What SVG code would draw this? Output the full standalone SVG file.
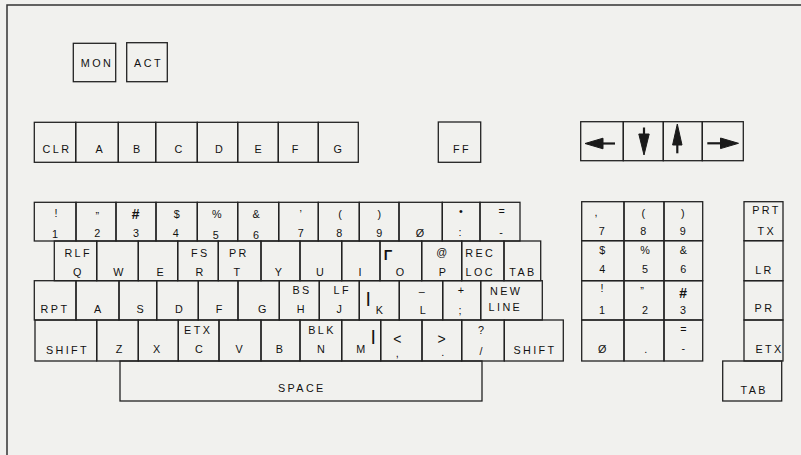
<svg xmlns="http://www.w3.org/2000/svg" width="801" height="455" viewBox="0 0 801 455">
<style>
.bg{fill:#f1f1ee}
.k{fill:none;stroke:#222;stroke-width:1.3}
.fr{fill:none;stroke:#333;stroke-width:1.5}
.t{font-family:"Liberation Sans",Arial,sans-serif;font-size:10.8px;text-anchor:middle;fill:#111}
.w{font-family:"Liberation Sans",Arial,sans-serif;font-size:10.8px;letter-spacing:2.4px;text-anchor:middle;fill:#111}
.h{font-family:"Liberation Sans",Arial,sans-serif;font-size:14px;font-weight:bold;font-style:italic;text-anchor:middle;fill:#111}
.big{font-family:"Liberation Sans",Arial,sans-serif;font-size:14px;text-anchor:middle;fill:#111}
.bar{font-family:"Liberation Sans",Arial,sans-serif;font-size:14px;font-weight:bold;text-anchor:middle;fill:#111}
.ar{fill:#1a1a1a;stroke:#1a1a1a;stroke-width:1}
.sh{stroke:#1a1a1a;stroke-width:2.2}
</style>
<rect class="bg" x="0" y="0" width="801" height="455"/>
<path class="fr" d="M7,455 V5 H801"/>

<g id="key-mon"><rect class="k" x="73.3" y="43.3" width="42.4" height="38.4"/><text class="w" x="97" y="67">MON</text></g>
<g id="key-act"><rect class="k" x="126.7" y="42.7" width="40.6" height="39"/><text class="w" x="148.5" y="67">ACT</text></g>

<g id="key-clr"><rect class="k" x="34.3" y="122.3" width="41.4" height="40"/><text class="w" x="57" y="153">CLR</text></g>
<g id="key-a1"><rect class="k" x="75.7" y="122.3" width="42.6" height="40"/><text class="t" x="99" y="153">A</text></g>
<g id="key-b1"><rect class="k" x="118.3" y="122.3" width="37.4" height="40"/><text class="t" x="136.7" y="153">B</text></g>
<g id="key-c1"><rect class="k" x="155.7" y="122.3" width="41.6" height="40"/><text class="t" x="178.3" y="153">C</text></g>
<g id="key-d1"><rect class="k" x="197.3" y="122.3" width="40.4" height="40"/><text class="t" x="219" y="153">D</text></g>
<g id="key-e1"><rect class="k" x="237.7" y="122.3" width="40.6" height="40"/><text class="t" x="258" y="153">E</text></g>
<g id="key-f1"><rect class="k" x="278.3" y="122.3" width="40" height="40"/><text class="t" x="295" y="153">F</text></g>
<g id="key-g1"><rect class="k" x="318.3" y="122.3" width="40" height="40"/><text class="t" x="337.7" y="153">G</text></g>

<g id="key-ff"><rect class="k" x="438.3" y="122" width="42.4" height="40.3"/><text class="w" x="462" y="152.5">FF</text></g>

<g id="key-left"><rect class="k" x="580.7" y="121.7" width="42.6" height="39"/><path class="ar" d="M585,143.5 L603,138.2 L603,148.8 Z"/><line class="sh" x1="600" y1="143.5" x2="615" y2="143.5"/></g>
<g id="key-down"><rect class="k" x="623.3" y="121.7" width="40" height="39"/><path class="ar" d="M638.8,134 L649.2,134 L644,155 Z"/><line class="sh" x1="644" y1="127.5" x2="644" y2="136"/></g>
<g id="key-up"><rect class="k" x="663.3" y="121.7" width="39" height="39"/><path class="ar" d="M677.3,124 L682,145 L672.6,145 Z"/><line class="sh" x1="677.3" y1="143" x2="677.3" y2="153.3"/></g>
<g id="key-right"><rect class="k" x="702.3" y="121.7" width="41" height="39"/><path class="ar" d="M738.5,143.3 L720.5,138 L720.5,148.6 Z"/><line class="sh" x1="707.3" y1="143.3" x2="723" y2="143.3"/></g>

<!-- row 1 -->
<g id="key-1"><rect class="k" x="34.3" y="202.3" width="41.7" height="38.7"/><text class="t" x="56" y="217">!</text><text class="t" x="55" y="237.5">1</text></g>
<g id="key-2"><rect class="k" x="76" y="202.3" width="40" height="38.7"/><text class="t" x="97.3" y="220">”</text><text class="t" x="97.3" y="237">2</text></g>
<g id="key-3"><rect class="k" x="116" y="202.3" width="40" height="38.7"/><text class="h" x="135.5" y="218.5">#</text><text class="t" x="136" y="237">3</text></g>
<g id="key-4"><rect class="k" x="156" y="202.3" width="41.3" height="38.7"/><text class="t" x="176.7" y="218">$</text><text class="t" x="175.7" y="237">4</text></g>
<g id="key-5"><rect class="k" x="197.3" y="202.3" width="40.4" height="38.7"/><text class="t" x="216.7" y="217.5">%</text><text class="t" x="215.7" y="239">5</text></g>
<g id="key-6"><rect class="k" x="237.7" y="202.3" width="41" height="38.7"/><text class="t" x="256" y="218">&amp;</text><text class="t" x="256" y="239">6</text></g>
<g id="key-7"><rect class="k" x="278.7" y="202.3" width="39.6" height="38.7"/><text class="t" x="300.7" y="218">’</text><text class="t" x="300.7" y="236.5">7</text></g>
<g id="key-8"><rect class="k" x="318.3" y="202.3" width="41" height="38.7"/><text class="t" x="340" y="217.5">(</text><text class="t" x="339.3" y="237">8</text></g>
<g id="key-9"><rect class="k" x="359.3" y="202.3" width="39.7" height="38.7"/><text class="t" x="379.3" y="217.5">)</text><text class="t" x="379.3" y="237">9</text></g>
<g id="key-0"><rect class="k" x="399" y="202.3" width="43.3" height="38.7"/><text class="t" x="420" y="237">Ø</text></g>
<g id="key-colon"><rect class="k" x="442.3" y="202.3" width="37.7" height="38.7"/><text class="t" x="461" y="215">•</text><text class="t" x="460" y="236">:</text></g>
<g id="key-minus"><rect class="k" x="480" y="202.3" width="40" height="38.7"/><text class="t" x="501.7" y="215" fill="#777">=</text><text class="t" x="501" y="236">-</text></g>

<!-- row 2 -->
<g id="key-q"><rect class="k" x="54.3" y="241" width="42.4" height="39.7"/><text class="w" x="78.2" y="256.5">RLF</text><text class="t" x="77.3" y="276">Q</text></g>
<g id="key-w"><rect class="k" x="96.7" y="241" width="41.6" height="39.7"/><text class="t" x="118.3" y="276">W</text></g>
<g id="key-e"><rect class="k" x="138.3" y="241" width="39.4" height="39.7"/><text class="t" x="160" y="276">E</text></g>
<g id="key-r"><rect class="k" x="177.7" y="241" width="40.6" height="39.7"/><text class="w" x="200.2" y="256.5">FS</text><text class="t" x="199.3" y="276">R</text></g>
<g id="key-t"><rect class="k" x="218.3" y="241" width="42.7" height="39.7"/><text class="w" x="238.9" y="256.5">PR</text><text class="t" x="236.7" y="276">T</text></g>
<g id="key-y"><rect class="k" x="261" y="241" width="39" height="39.7"/><text class="t" x="278.3" y="276">Y</text></g>
<g id="key-u"><rect class="k" x="300" y="241" width="41.7" height="39.7"/><text class="t" x="320" y="276">U</text></g>
<g id="key-i"><rect class="k" x="341.7" y="241" width="38.3" height="39.7"/><text class="t" x="360" y="276">I</text></g>
<g id="key-o"><rect class="k" x="380" y="241" width="41.7" height="39.7"/><text class="bar" x="388" y="260">Γ</text><text class="t" x="400" y="276">O</text></g>
<g id="key-p"><rect class="k" x="421.7" y="241" width="40" height="39.7"/><text class="t" x="441.7" y="256">@</text><text class="t" x="442.3" y="276">P</text></g>
<g id="key-recloc"><rect class="k" x="461.7" y="241" width="42.3" height="39.7"/><text class="w" x="480.2" y="256.5">REC</text><text class="w" x="480.2" y="276">LOC</text></g>
<g id="key-tab1"><rect class="k" x="504" y="241" width="36.7" height="39.7"/><text class="w" x="522.9" y="276">TAB</text></g>

<!-- row 3 -->
<g id="key-rpt"><rect class="k" x="34.3" y="280.7" width="41.7" height="39.3"/><text class="w" x="55" y="312.5">RPT</text></g>
<g id="key-a"><rect class="k" x="76" y="280.7" width="43" height="39.3"/><text class="t" x="97.7" y="313">A</text></g>
<g id="key-s"><rect class="k" x="119" y="280.7" width="37.7" height="39.3"/><text class="t" x="140" y="313">S</text></g>
<g id="key-d"><rect class="k" x="156.7" y="280.7" width="41.6" height="39.3"/><text class="t" x="179" y="313">D</text></g>
<g id="key-f"><rect class="k" x="198.3" y="280.7" width="39.7" height="39.3"/><text class="t" x="219" y="313">F</text></g>
<g id="key-g"><rect class="k" x="238" y="280.7" width="41.3" height="39.3"/><text class="t" x="262.3" y="313">G</text></g>
<g id="key-h"><rect class="k" x="279.3" y="280.7" width="40" height="39.3"/><text class="w" x="302" y="294">BS</text><text class="t" x="300.7" y="313">H</text></g>
<g id="key-j"><rect class="k" x="319.3" y="280.7" width="40" height="39.3"/><text class="w" x="342.2" y="294">LF</text><text class="t" x="339.3" y="313">J</text></g>
<g id="key-k"><rect class="k" x="359.3" y="280.7" width="40" height="39.3"/><text class="bar" x="368.3" y="302.5">|</text><text class="t" x="379.3" y="314">K</text></g>
<g id="key-l"><rect class="k" x="399.3" y="280.7" width="43.4" height="39.3"/><text class="t" x="421.7" y="295">–</text><text class="t" x="422.7" y="313.5">L</text></g>
<g id="key-semi"><rect class="k" x="442.7" y="280.7" width="38" height="39.3"/><text class="t" x="461" y="294">+</text><text class="t" x="460" y="314">;</text></g>
<g id="key-newline"><rect class="k" x="480.7" y="280.7" width="61.6" height="39.3"/><text class="w" x="506.2" y="295">NEW</text><text class="w" x="505.4" y="311">LINE</text></g>

<!-- row 4 -->
<g id="key-shift-l"><rect class="k" x="35" y="320" width="61.7" height="41"/><text class="w" x="67.5" y="353.5">SHIFT</text></g>
<g id="key-z"><rect class="k" x="96.7" y="320" width="41.6" height="41"/><text class="t" x="119" y="353">Z</text></g>
<g id="key-x"><rect class="k" x="138.3" y="320" width="40" height="41"/><text class="t" x="156.7" y="353">X</text></g>
<g id="key-c"><rect class="k" x="178.3" y="320" width="40.7" height="41"/><text class="w" x="198.2" y="334.3">ETX</text><text class="t" x="199" y="353">C</text></g>
<g id="key-v"><rect class="k" x="219" y="320" width="42" height="41"/><text class="t" x="239" y="353">V</text></g>
<g id="key-b"><rect class="k" x="261" y="320" width="39" height="41"/><text class="t" x="279.3" y="353">B</text></g>
<g id="key-n"><rect class="k" x="300" y="320" width="41.7" height="41"/><text class="w" x="322" y="334">BLK</text><text class="t" x="321" y="353">N</text></g>
<g id="key-m"><rect class="k" x="341.7" y="320" width="39" height="41"/><text class="bar" x="373.3" y="340.5">|</text><text class="t" x="360.7" y="353">M</text></g>
<g id="key-comma"><rect class="k" x="380.7" y="320" width="41.3" height="41"/><text class="big" x="397.3" y="343.5">&lt;</text><text class="t" x="397.3" y="357">,</text></g>
<g id="key-period"><rect class="k" x="422" y="320" width="39.7" height="41"/><text class="big" x="441.7" y="343.5">&gt;</text><text class="t" x="442.7" y="356">.</text></g>
<g id="key-slash"><rect class="k" x="461.7" y="320" width="42.6" height="41"/><text class="t" x="481" y="333.5">?</text><text class="t" x="481" y="355">/</text></g>
<g id="key-shift-r"><rect class="k" x="504.3" y="320" width="59" height="41"/><text class="w" x="535" y="354">SHIFT</text></g>

<g id="key-space"><rect class="k" x="120" y="361" width="362" height="40"/><text class="w" x="301.8" y="392">SPACE</text></g>

<!-- numeric pad -->
<g id="num-7"><rect class="k" x="581.7" y="201.7" width="42.3" height="39"/><text class="t" x="596" y="216">,</text><text class="t" x="601.7" y="234.5">7</text></g>
<g id="num-8"><rect class="k" x="624" y="201.7" width="40" height="39"/><text class="t" x="643.3" y="217">(</text><text class="t" x="643.3" y="234.5">8</text></g>
<g id="num-9"><rect class="k" x="664" y="201.7" width="38.7" height="39"/><text class="t" x="682.7" y="217">)</text><text class="t" x="682.7" y="234.5">9</text></g>
<g id="num-4"><rect class="k" x="581.7" y="240.7" width="42.3" height="40"/><text class="t" x="602.3" y="253.5">$</text><text class="t" x="602.3" y="272.5">4</text></g>
<g id="num-5"><rect class="k" x="624" y="240.7" width="40" height="40"/><text class="t" x="645" y="253.5">%</text><text class="t" x="645" y="272.5">5</text></g>
<g id="num-6"><rect class="k" x="664" y="240.7" width="38.7" height="40"/><text class="t" x="683.3" y="253.5">&amp;</text><text class="t" x="683.3" y="272.5">6</text></g>
<g id="num-1"><rect class="k" x="581.7" y="280.7" width="42.3" height="39.3"/><text class="t" x="602" y="292">!</text><text class="t" x="602" y="313.5">1</text></g>
<g id="num-2"><rect class="k" x="624" y="280.7" width="40" height="39.3"/><text class="t" x="642" y="295">”</text><text class="t" x="645" y="313.5">2</text></g>
<g id="num-3"><rect class="k" x="664" y="280.7" width="38.7" height="39.3"/><text class="h" x="683" y="298">#</text><text class="t" x="683" y="313.5">3</text></g>
<g id="num-0"><rect class="k" x="581.7" y="320" width="42.3" height="41"/><text class="t" x="602.3" y="353">Ø</text></g>
<g id="num-dot"><rect class="k" x="624" y="320" width="40" height="41"/><text class="t" x="645.7" y="353">.</text></g>
<g id="num-minus"><rect class="k" x="664" y="320" width="38.7" height="41"/><text class="t" x="683.3" y="333" fill="#777">=</text><text class="t" x="683.3" y="352">-</text></g>

<g id="key-prttx"><rect class="k" x="744" y="201.7" width="39" height="39"/><text class="w" x="766.5" y="213.5">PRT</text><text class="w" x="766.8" y="234.5">TX</text></g>
<g id="key-lr"><rect class="k" x="744" y="240.7" width="39" height="40"/><text class="w" x="764.5" y="274">LR</text></g>
<g id="key-pr"><rect class="k" x="744" y="280.7" width="39" height="39.3"/><text class="w" x="764.5" y="312">PR</text></g>
<g id="key-etx"><rect class="k" x="744" y="320" width="39" height="41"/><text class="w" x="769.5" y="353">ETX</text></g>
<g id="key-tab2"><rect class="k" x="722.7" y="361" width="59" height="40"/><text class="w" x="754.2" y="393.5">TAB</text></g>
</svg>
